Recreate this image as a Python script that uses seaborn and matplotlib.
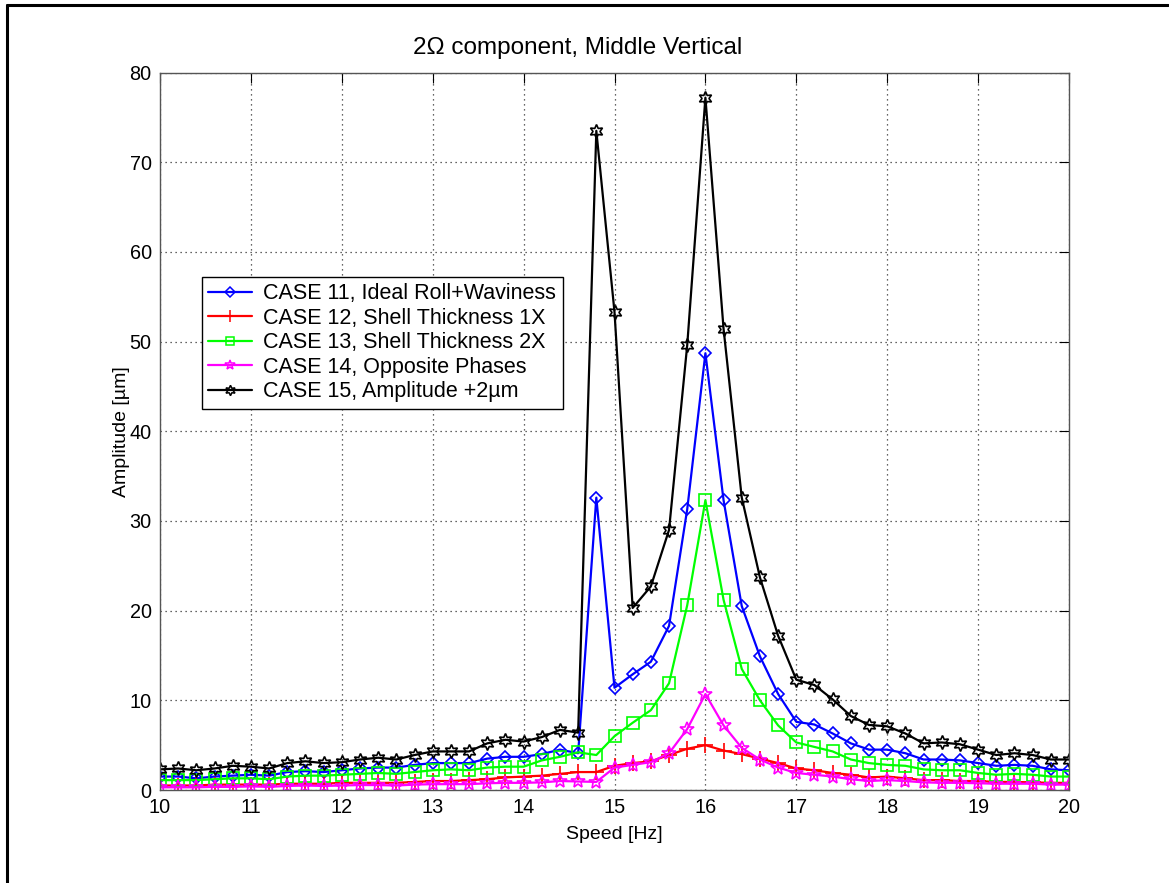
import matplotlib
matplotlib.use("Agg")
import matplotlib.pyplot as plt
from matplotlib.lines import Line2D
import seaborn as sns
import pandas as pd

# Shaft speed in Hz
speed = [10.0, 10.2, 10.4, 10.6, 10.8, 11.0, 11.2, 11.4, 11.6, 11.8,
         12.0, 12.2, 12.4, 12.6, 12.8, 13.0, 13.2, 13.4, 13.6, 13.8,
         14.0, 14.2, 14.4, 14.6, 14.8, 15.0, 15.2, 15.4, 15.6, 15.8,
         16.0, 16.2, 16.4, 16.6, 16.8, 17.0, 17.2, 17.4, 17.6, 17.8,
         18.0, 18.2, 18.4, 18.6, 18.8, 19.0, 19.2, 19.4, 19.6, 19.8,
         20.0]

# 2-Omega amplitude [um] for each case
case11 = [1.5, 1.5, 1.3, 1.5, 1.6, 1.7, 1.6, 2.0, 2.1, 2.0,
          2.2, 2.4, 2.5, 2.5, 2.8, 3.0, 3.0, 3.0, 3.5, 3.7,
          3.7, 4.0, 4.5, 4.1, 32.6, 11.4, 12.9, 14.3, 18.3, 31.3,
          48.7, 32.3, 20.5, 14.9, 10.7, 7.6, 7.3, 6.3, 5.2, 4.5,
          4.5, 4.1, 3.4, 3.4, 3.3, 3.0, 2.7, 2.8, 2.7, 2.3,
          2.2]
case12 = [0.5, 0.5, 0.5, 0.6, 0.6, 0.6, 0.6, 0.7, 0.7, 0.7,
          0.8, 0.8, 0.8, 0.8, 0.9, 1.0, 1.0, 1.1, 1.2, 1.4,
          1.5, 1.6, 1.8, 2.0, 2.0, 2.7, 3.0, 3.2, 3.9, 4.6,
          5.0, 4.4, 4.0, 3.5, 3.0, 2.4, 2.2, 1.9, 1.7, 1.4,
          1.5, 1.3, 1.1, 1.1, 1.0, 1.0, 0.9, 0.9, 0.85, 0.8,
          0.8]
case13 = [1.1, 1.1, 1.1, 1.2, 1.3, 1.3, 1.2, 1.5, 1.6, 1.6,
          1.7, 1.8, 1.9, 1.8, 2.0, 2.2, 2.3, 2.2, 2.5, 2.6,
          2.6, 3.3, 3.7, 4.2, 3.9, 6.0, 7.5, 8.9, 11.9, 20.6,
          32.3, 21.2, 13.5, 10.0, 7.2, 5.3, 4.8, 4.3, 3.4, 3.0,
          2.8, 2.7, 2.3, 2.2, 2.2, 1.9, 1.7, 1.8, 1.7, 1.5,
          1.5]
case14 = [0.3, 0.3, 0.3, 0.35, 0.35, 0.4, 0.35, 0.45, 0.5, 0.45,
          0.5, 0.55, 0.55, 0.5, 0.6, 0.65, 0.65, 0.65, 0.75, 0.8,
          0.8, 0.85, 1.0, 0.95, 0.9, 2.5, 2.8, 3.1, 4.1, 6.8,
          10.7, 7.2, 4.7, 3.4, 2.5, 1.9, 1.7, 1.5, 1.2, 1.0,
          1.1, 1.0, 0.85, 0.8, 0.8, 0.75, 0.7, 0.7, 0.7, 0.6,
          0.6]
case15 = [2.3, 2.4, 2.2, 2.4, 2.7, 2.6, 2.4, 3.0, 3.2, 3.0,
          3.1, 3.4, 3.6, 3.4, 3.9, 4.3, 4.3, 4.3, 5.2, 5.6,
          5.4, 5.9, 6.7, 6.4, 73.5, 53.3, 20.3, 22.7, 29.0, 49.6,
          77.2, 51.4, 32.6, 23.7, 17.2, 12.3, 11.7, 10.1, 8.25, 7.25,
          7.1, 6.3, 5.2, 5.3, 5.1, 4.5, 3.9, 4.1, 3.9, 3.4,
          3.4]

labels = ["CASE 11, Ideal Roll+Waviness",
          "CASE 12, Shell Thickness 1X",
          "CASE 13, Shell Thickness 2X",
          "CASE 14, Opposite Phases",
          "CASE 15, Amplitude +2\u00b5m"]

x_ticks = [10, 11, 12, 13, 14, 15, 16, 17, 18, 19, 20]
y_ticks = [0, 10, 20, 30, 40, 50, 60, 70, 80]

sns.set_style("white")
plt.rcParams["font.family"] = ["Liberation Sans", "DejaVu Sans"]
plt.rcParams["text.color"] = "black"
plt.rcParams["axes.labelcolor"] = "black"

fig = plt.figure(figsize=(11.69, 8.83), dpi=100)
ax = fig.add_axes([160 / 1169, 1 - 790 / 883, 909 / 1169, 717.5 / 883])

styles = [
    dict(color="#0000ff", marker="D", ms=6.5, mfc="none"),
    dict(color="#ff0000", marker="+", ms=11, mfc="none"),
    dict(color="#00ff00", marker="s", ms=8, mfc="none"),
    dict(color="#ff00ff", marker="*", ms=10, mfc="none"),
    dict(color="#000000", marker=(6, 1, 0), ms=10, mfc="none"),
]
series = [case11, case12, case13, case14, case15]

for vals, lab, st in zip(series, labels, styles):
    df = pd.DataFrame({"speed": speed, "amp": vals})
    sns.lineplot(data=df, x="speed", y="amp", ax=ax, label=lab,
                 color=st["color"], marker=st["marker"], markersize=st["ms"],
                 markerfacecolor=st["mfc"], markeredgecolor=st["color"],
                 markeredgewidth=1.2, linewidth=1.6, legend=False)

ax.set_xlim(10, 20)
ax.set_ylim(0, 80)
ax.set_xticks(x_ticks)
ax.set_yticks(y_ticks)
ax.grid(True, linestyle=(0, (1, 3)), color="#333333", linewidth=0.9)
ax.tick_params(direction="in", length=7, width=0.8, top=True, right=True,
               labelsize=14.3, colors="black")
ax.tick_params(axis="x", pad=6)
ax.tick_params(axis="y", pad=6)
for sp in ax.spines.values():
    sp.set_visible(True)
    sp.set_color("#555555")
    sp.set_linewidth(1.0)

ax.set_xlabel("Speed [Hz]", fontsize=14, labelpad=6)
ax.set_ylabel("Amplitude [\u00b5m]", fontsize=14, labelpad=0)
ax.set_title("2\u03a9 component, Middle Vertical", fontsize=17.5,
             x=(578 - 160) / 909, pad=13)

handles = [Line2D([0], [0], color=st["color"], marker=st["marker"],
                  ms=st["ms"] * 0.75, mfc=st["mfc"], mec=st["color"],
                  mew=1.1, lw=1.6) for st in styles]
leg = ax.legend(handles, labels, loc="upper left",
                bbox_to_anchor=((202 - 160) / 909, (790 - 277) / 717.5),
                borderaxespad=0, fontsize=15.5, frameon=True, fancybox=False,
                edgecolor="black", framealpha=1, handlelength=2.0,
                handletextpad=0.55, labelspacing=0.16, borderpad=0.3)
leg.get_frame().set_linewidth(1.0)

# Figure frame on the left and top edges
fig.add_artist(Line2D([7 / 1169, 7 / 1169], [0, 1 - 5 / 883],
                      transform=fig.transFigure, color="black", lw=2.2))
fig.add_artist(Line2D([7 / 1169, 1168 / 1169], [1 - 5 / 883, 1 - 5 / 883],
                      transform=fig.transFigure, color="black", lw=2.2))

fig.savefig("out.png", dpi=100)
